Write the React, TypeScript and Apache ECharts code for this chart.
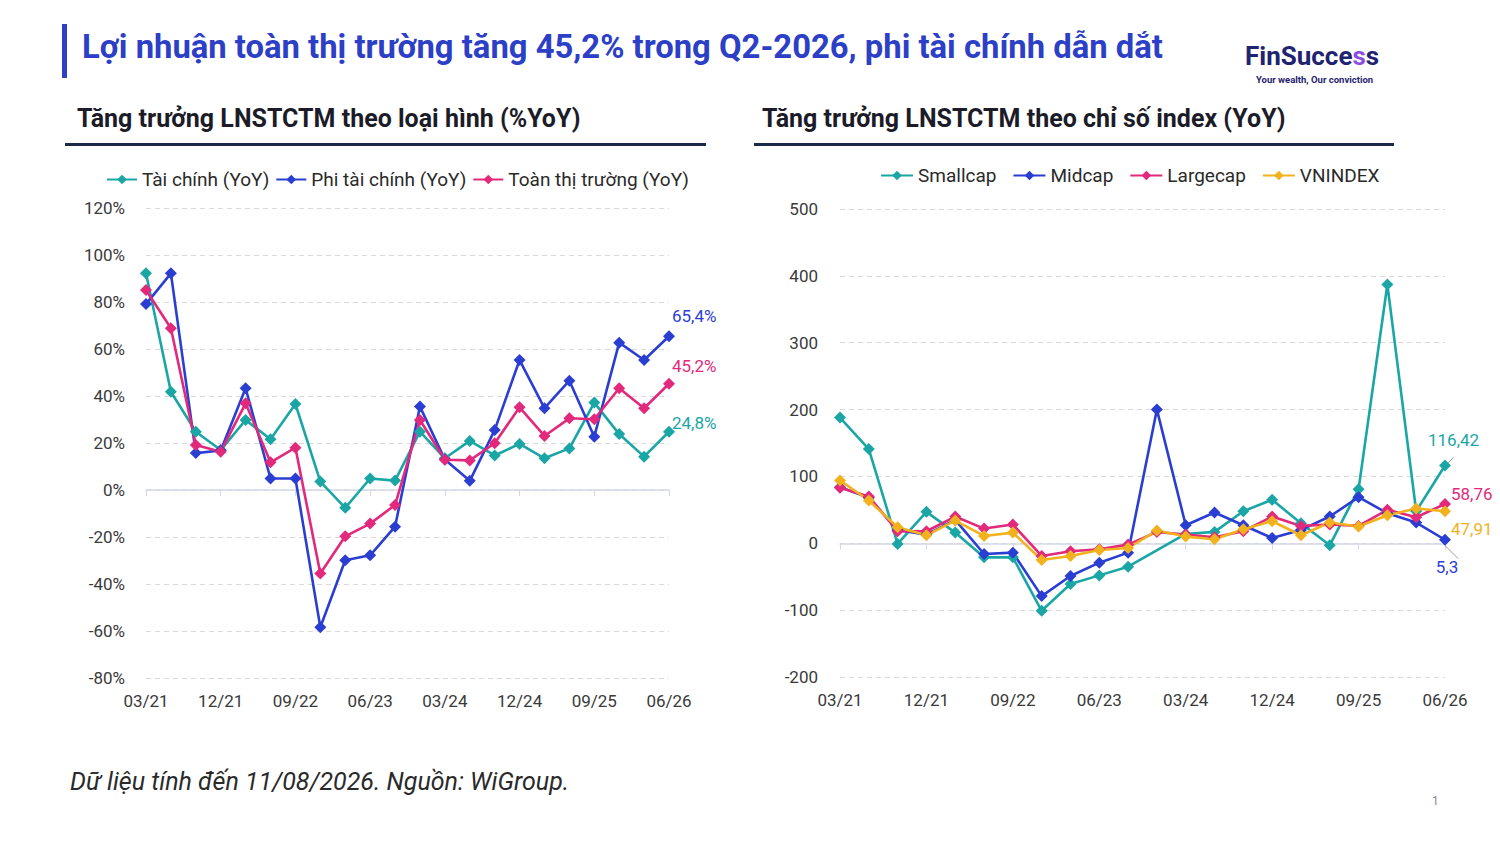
import React, { useEffect, useRef } from "react";
import * as echarts from "echarts";

const quarters = [
  "03/21", "06/21", "09/21", "12/21", "03/22", "06/22", "09/22", "12/22",
  "03/23", "06/23", "09/23", "12/23", "03/24", "06/24", "09/24", "12/24",
  "03/25", "06/25", "09/25", "12/25", "03/26", "06/26",
];

// Left chart (% YoY)
const finYoY = [92.2, 41.8, 24.8, 17, 29.8, 21.6, 36.6, 3.6, -7.6, 4.9, 4, 24.8, 13.5, 20.9, 14.7, 19.6, 13.5, 17.7, 37.2, 23.8, 14.2, 24.8];
const nonFinYoY = [79.1, 92.2, 15.7, 16.8, 43.3, 4.9, 4.9, -58.4, -29.9, -27.8, -15.6, 35.5, 13, 3.9, 25.5, 55.3, 34.8, 46.5, 22.7, 62.7, 55.3, 65.4];
const marketYoY = [85.1, 68.8, 19.1, 16.3, 36.9, 11.8, 18, -35.5, -19.7, -14.3, -6.4, 29.8, 12.9, 12.6, 19.9, 35.2, 23, 30.5, 30.1, 43.3, 34.8, 45.2];

// Right chart (YoY by index)
const smallcap = [188, 141, -1, 47, 16, -21, -21, -101, -61, -48, -35, null, 14, 17, 48, 65, 30, -3, 81, 387, 48, 116.42];
const midcap = [84, 68, 20, 13, 35, -16, -14, -79, -49, -29, -14, 200, 27, 46, 27, 8, 20, 40, 69, 45, 31, 5.3];
const largecap = [83, 70, 18, 18, 40, 22, 28, -19, -12, -9, -2, 17, 13, 9, 18, 40, 26, 28, 26, 50, 39, 58.76];
const vnindex = [94, 64, 24, 12, 34, 11, 16, -25, -19, -10, -7, 19, 10, 6, 21, 33, 12, 31, 25, 42, 52, 47.91];

const leftNames = ["Tài chính (YoY)", "Phi tài chính (YoY)", "Toàn thị trường (YoY)"];
const rightNames = ["Smallcap", "Midcap", "Largecap", "VNINDEX"];

const TEAL = "#1ba6a6";
const BLUE = "#2b3ed2";
const PINK = "#e2297c";
const YELLOW = "#f2b21e";
const FONT = "Roboto";

const commaNum = (v: number) => String(v).replace(".", ",");

function withLastLabel(values: (number | null)[], label: any, extra: any = {}) {
  return values.map((v, i) =>
    i === values.length - 1 ? { value: v, label: { show: true, ...label }, ...extra } : v
  );
}

function lineSeries(name: string, color: string, data: any[], xi: number, extra: any = {}) {
  return {
    name,
    type: "line",
    xAxisIndex: xi,
    yAxisIndex: xi,
    data,
    symbol: "diamond",
    symbolSize: 12,
    color,
    lineStyle: { width: 2.6, color },
    itemStyle: { color },
    emphasis: { disabled: true },
    ...extra,
  };
}

export default function App() {
  const ref = useRef<HTMLDivElement>(null);

  useEffect(() => {
    if (!ref.current) return;
    const chart = echarts.init(ref.current, undefined, { renderer: "svg" });

    const axisLabel = { color: "#3a3a3a", fontSize: 17, fontFamily: FONT };
    const xAxisCommon = {
      type: "category",
      data: quarters,
      boundaryGap: false,
      axisLine: { onZero: true, lineStyle: { color: "#d3d8e6", width: 1.5 } },
      axisTick: { show: true, interval: 2, length: 6, lineStyle: { color: "#d3d8e6" } },
      axisLabel: { ...axisLabel, interval: 2, margin: 14 },
    };
    const splitLine = { show: true, lineStyle: { color: "#d9d9d9", type: [5, 4], width: 1 } };

    const lblFont = { fontFamily: FONT, fontSize: 17 };

    const option: any = {
      animation: false,
      backgroundColor: "#ffffff",
      textStyle: { fontFamily: FONT },
      grid: [
        { left: 146, right: 831, top: 208, bottom: 166, containLabel: false },
        { left: 840, right: 55, top: 209, bottom: 167, containLabel: false },
      ],
      legend: [
        {
          data: leftNames,
          left: 101,
          top: 165,
          itemWidth: 30,
          itemHeight: 12,
          itemGap: 6,
          textStyle: { fontSize: 19, color: "#2a2a2a", fontFamily: FONT },
        },
        {
          data: rightNames,
          left: 875,
          top: 161,
          itemWidth: 32,
          itemHeight: 12,
          itemGap: 16,
          textStyle: { fontSize: 19, color: "#2a2a2a", fontFamily: FONT },
        },
      ],
      xAxis: [
        { ...xAxisCommon, gridIndex: 0 },
        { ...xAxisCommon, gridIndex: 1 },
      ],
      yAxis: [
        {
          type: "value",
          gridIndex: 0,
          min: -80,
          max: 120,
          interval: 20,
          axisLine: { show: false },
          axisTick: { show: false },
          axisLabel: { ...axisLabel, margin: 21, formatter: "{value}%" },
          splitLine,
        },
        {
          type: "value",
          gridIndex: 1,
          min: -200,
          max: 500,
          interval: 100,
          axisLine: { show: false },
          axisTick: { show: false },
          axisLabel: { ...axisLabel, margin: 22 },
          splitLine,
        },
      ],
      series: [
        lineSeries(
          leftNames[0], TEAL,
          withLastLabel(finYoY, { ...lblFont, color: TEAL, position: "right", offset: [-8, -9], formatter: (p: any) => commaNum(p.value) + "%" }),
          0
        ),
        lineSeries(
          leftNames[1], BLUE,
          withLastLabel(nonFinYoY, { ...lblFont, color: BLUE, position: "right", offset: [-8, -20], formatter: (p: any) => commaNum(p.value) + "%" }),
          0
        ),
        lineSeries(
          leftNames[2], PINK,
          withLastLabel(marketYoY, { ...lblFont, color: PINK, position: "right", offset: [-8, -18], formatter: (p: any) => commaNum(p.value) + "%" }),
          0
        ),
        lineSeries(
          rightNames[0], TEAL,
          withLastLabel(smallcap, { ...lblFont, color: TEAL, position: "right", offset: [-28, -25], formatter: (p: any) => commaNum(p.value) }, { labelLine: { show: true, lineStyle: { color: "#9a9a9a", width: 1 } } }),
          1,
          { connectNulls: true }
        ),
        lineSeries(
          rightNames[1], BLUE,
          withLastLabel(midcap, { ...lblFont, color: BLUE, position: "bottom", offset: [2, 8], formatter: (p: any) => commaNum(p.value) }, { labelLine: { show: true, lineStyle: { color: "#9a9a9a", width: 1 } } }),
          1
        ),
        lineSeries(
          rightNames[2], PINK,
          withLastLabel(largecap, { ...lblFont, color: PINK, position: "right", offset: [-5, -10], formatter: (p: any) => commaNum(p.value) }),
          1
        ),
        lineSeries(
          rightNames[3], YELLOW,
          withLastLabel(vnindex, { ...lblFont, color: YELLOW, position: "right", offset: [-5, 18], formatter: (p: any) => commaNum(p.value) }),
          1
        ),
      ],
      graphic: [
        { type: "rect", left: 62, top: 24, shape: { width: 5, height: 54 }, style: { fill: "#2c3fc6" } },
        {
          type: "text",
          left: 82,
          top: 30,
          style: {
            text: "Lợi nhuận toàn thị trường tăng 45,2% trong Q2-2026, phi tài chính dẫn dắt",
            fill: "#2c3fc6",
            font: `bold 32.8px ${FONT}`,
          },
        },
        {
          type: "text",
          left: 1245,
          top: 43,
          style: {
            text: "{a|Fin}{a|Succe}{p|s}{a|s}",
            rich: {
              a: { fill: "#1f2370", font: `bold 26px ${FONT}` },
              p: { fill: "#8a4fe0", font: `bold 26px ${FONT}` },
            },
          },
        },
        {
          type: "text",
          left: 1256,
          top: 74,
          style: { text: "Your wealth, Our conviction", fill: "#1f2370", font: `bold 9.5px ${FONT}` },
        },
        {
          type: "text",
          left: 77,
          top: 106,
          style: { text: "Tăng trưởng LNSTCTM theo loại hình (%YoY)", fill: "#1c1c28", font: `bold 25px ${FONT}` },
        },
        { type: "rect", left: 65, top: 143, shape: { width: 641, height: 3 }, style: { fill: "#1c2a4a" } },
        {
          type: "text",
          left: 762,
          top: 106,
          style: { text: "Tăng trưởng LNSTCTM theo chỉ số index (YoY)", fill: "#1c1c28", font: `bold 25px ${FONT}` },
        },
        { type: "rect", left: 754, top: 143, shape: { width: 640, height: 3 }, style: { fill: "#1c2a4a" } },
        {
          type: "text",
          left: 70,
          top: 769,
          style: { text: "Dữ liệu tính đến 11/08/2026. Nguồn: WiGroup.", fill: "#2a2a2a", font: `italic 25px ${FONT}` },
        },
        {
          type: "text",
          left: 1432,
          top: 795,
          style: { text: "1", fill: "#8a8a8a", font: `12px ${FONT}` },
        },
      ],
    };

    chart.setOption(option);
    return () => chart.dispose();
  }, []);

  return (
    <div
      ref={ref}
      style={{ position: "fixed", left: 0, top: 0, width: 1500, height: 844, background: "#fff" }}
    />
  );
}
